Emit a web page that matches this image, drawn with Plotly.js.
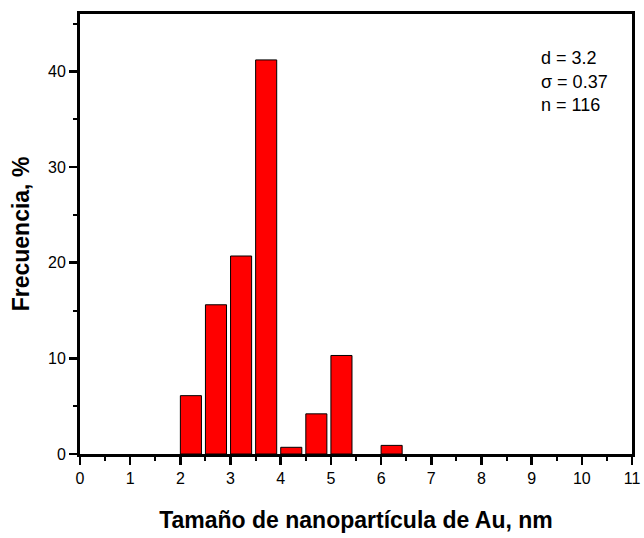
<!DOCTYPE html>
<html><head><meta charset="utf-8">
<script src="https://cdn.plot.ly/plotly-3.0.1.min.js"></script>
<style>html,body{margin:0;padding:0;background:#fff}</style>
</head><body>
<div id="chart" style="width:644px;height:538px"></div>
<script>
var binStart = [2.0, 2.5, 3.0, 3.5, 4.0, 4.5, 5.0, 6.0];
var frequency = [6.1, 15.6, 20.7, 41.2, 0.7, 4.2, 10.3, 0.9];
var statsLines = ["d = 3.2", "\u03c3 = 0.37", "n = 116"];
var xTicks = [0,1,2,3,4,5,6,7,8,9,10,11];
var yTicks = [0,10,20,30,40];

var trace = {
  type: 'bar', x: binStart, y: frequency, width: 0.42, offset: 0,
  marker: {color: '#ff0000', line: {color: '#000', width: 1}},
  hoverinfo: 'skip'
};
var layout = {
  width: 644, height: 538,
  margin: {l: 80, r: 12, t: 14, b: 84},
  paper_bgcolor: '#fff', plot_bgcolor: '#fff',
  showlegend: false,
  font: {family: 'Arial, Liberation Sans, sans-serif', color: '#000'},
  xaxis: {
    range: [0, 11], tickvals: xTicks, ticktext: xTicks.map(String),
    showgrid: false, zeroline: false, showline: true, mirror: true,
    linecolor: '#000', linewidth: 3,
    ticks: 'outside', ticklen: 8, tickwidth: 2.5, tickcolor: '#000',
    minor: {dtick: 0.5, ticks: 'outside', ticklen: 4, tickwidth: 2, tickcolor: '#000', showgrid: false},
    tickfont: {size: 16},
    title: {text: '<b>Tamaño de nanopartícula de Au, nm</b>', font: {size: 23}, standoff: 26}
  },
  yaxis: {
    range: [0, 46], tickvals: yTicks, ticktext: yTicks.map(String),
    showgrid: false, zeroline: false, showline: true, mirror: true,
    linecolor: '#000', linewidth: 3,
    ticks: 'outside', ticklen: 8, tickwidth: 2.5, tickcolor: '#000',
    minor: {dtick: 5, ticks: 'outside', ticklen: 4, tickwidth: 2, tickcolor: '#000', showgrid: false},
    tickfont: {size: 16},
    title: {text: '<b>Frecuencia, %</b>', font: {size: 23}, standoff: 12}
  },
  annotations: statsLines.map(function(t, i){
    return {text: t, xref: 'paper', yref: 'paper', x: 0.832, y: 1 - (44 + i*23.5)/440,
      xanchor: 'left', yanchor: 'middle', showarrow: false, font: {size: 18}};
  })
};
Plotly.newPlot('chart', [trace], layout, {displayModeBar: false, staticPlot: true});
</script>
</body></html>
